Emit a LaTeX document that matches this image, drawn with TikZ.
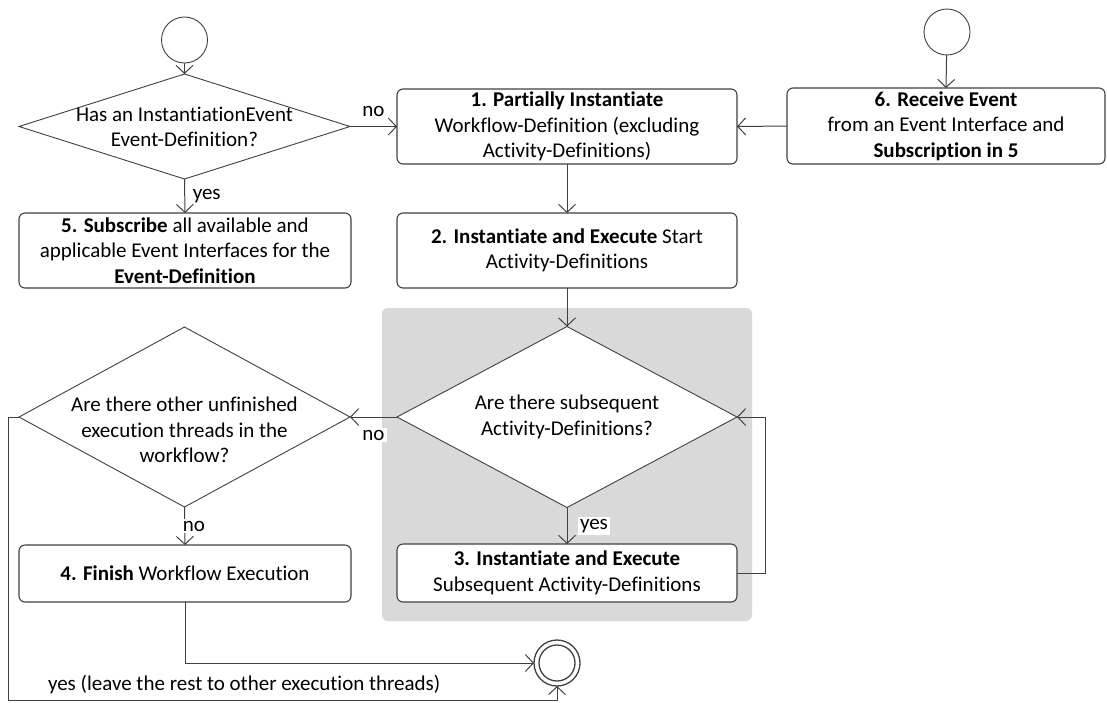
\documentclass[tikz,border=0pt]{standalone}
\usepackage{fontspec}
\setmainfont{Carlito}[Ligatures=NoCommon]
\usetikzlibrary{shapes.geometric,arrows.meta}
\definecolor{linegray}{HTML}{404040}
\definecolor{panel}{HTML}{D9D9D9}
\begin{document}
\begin{tikzpicture}[x=1pt,y=-1pt,
  font=\fontsize{21}{25.5}\selectfont,
  every node/.style={inner sep=0pt, outer sep=0pt},
  flow/.style={draw=linegray, line width=1pt, -{Straight Barb[length=8pt,width=17pt]}},
  task/.style={draw=linegray, line width=1.1pt, rounded corners=6pt, fill=white, align=center},
  decision/.style={draw=linegray, line width=0.9pt, diamond, fill=white},
  startnode/.style={circle, draw=linegray, line width=0.9pt, minimum size=46pt},
  endring/.style={circle, draw=linegray, line width=1.3pt},
  caption/.style={align=center},
  tag/.style={fill=white, inner sep=2pt}]

\useasboundingbox (0,0) rectangle (1107,702);

% shaded region around the activity loop
\fill[panel, rounded corners=6pt] (382,308) rectangle (752,621);

% start and end points
\node[startnode] (s1) at (184.5,40) {};
\node[startnode] (s2) at (947,32) {};
\node[endring, minimum size=46pt] (end) at (557,663) {};
\node[endring, minimum size=36pt] (endin) at (557,663) {};

% decisions
\node[decision, minimum width=331pt, minimum height=105pt] (d1) at (184.5,126.5) {};
\node[caption] (t1) at (184.5,127) {Has an InstantiationEvent\\Event-Definition?};
\node[decision, minimum width=340pt, minimum height=181pt] (d2) at (567,417) {};
\node[caption] (t2) at (567,417) {Are there subsequent\\Activity-Definitions?};
\node[decision, minimum width=331pt, minimum height=180pt] (d3) at (184.5,417) {};
\node[caption] (t3) at (184.5,430) {Are there other unfinished\\execution threads in the\\workflow?};

% activities
\node[task, minimum width=340pt, minimum height=75pt] (b1) at (567,126.5)
  {\textbf{1. Partially Instantiate}\\Workflow-Definition (excluding\\Activity-Definitions)};
\node[task, minimum width=318pt, minimum height=76pt] (b6) at (946,126)
  {\textbf{6. Receive Event}\\from an Event Interface and\\\textbf{Subscription in 5}};
\node[task, minimum width=332pt, minimum height=75pt] (b5) at (185,250.5)
  {\textbf{5. Subscribe} all available and\\applicable Event Interfaces for the\\\textbf{Event-Definition}};
\node[task, minimum width=340pt, minimum height=75pt] (b2) at (567,250.5)
  {\textbf{2. Instantiate and Execute} Start\\Activity-Definitions};
\node[task, minimum width=340pt, minimum height=58pt] (b3) at (567,573)
  {\textbf{3. Instantiate and Execute}\\Subsequent Activity-Definitions};
\node[task, minimum width=332pt, minimum height=57pt] (b4) at (185,573.5)
  {\textbf{4. Finish} Workflow Execution};

% routing points
\coordinate (loopc) at (765,417);
\coordinate (rim) at (8,700);

% connectors
\draw[flow] (s1) -- (d1.north);
\draw[flow] (s2) -- (b6.north);
\draw[flow] (d1.east) -- node[above=9.5pt] {no} (b1.west);
\draw[flow] (b6.west) -- (b1.east);
\draw[flow] (d1.south) -- node[right=8pt] {yes} (b5.north);
\draw[flow] (b1.south) -- (b2.north);
\draw[flow] (b2.south) -- (d2.north);
\draw[flow] (d2.south) -- node[tag, right=11pt] {yes} (b3.north);
\draw[flow] (b3.east) -| (loopc) -- (d2.east);
\draw[flow] (d2.west) -- node[tag, below=11pt] {no} (d3.east);
\draw[flow] (d3.south) -- node[tag, anchor=west, xshift=-4pt] {no} (b4.north);
\draw[flow] (b4.south) |- (end.west);
\draw[flow] (d3.west) -| (rim) -| (end.south);
\node[anchor=base west] (yesall) at (48,690) {yes (leave the rest to other execution threads)};

\end{tikzpicture}
\end{document}
